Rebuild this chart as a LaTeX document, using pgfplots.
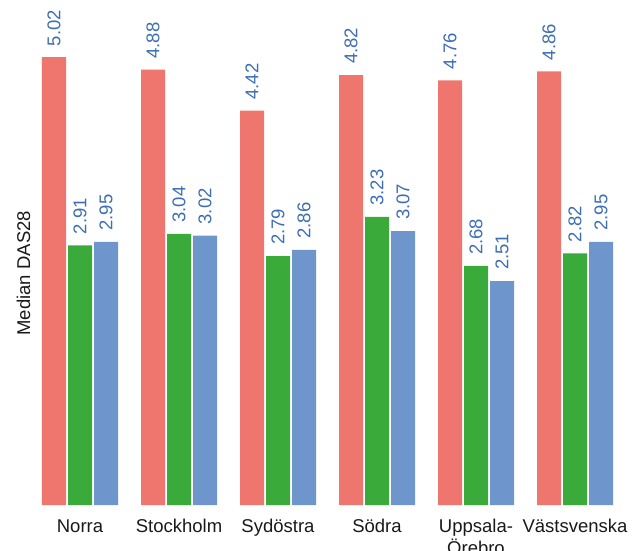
\documentclass[border=0pt]{standalone}
\usepackage{fontspec}
\setmainfont{Liberation Sans}
\usepackage{pgfplots}
\pgfplotsset{compat=1.18}
\definecolor{cred}{RGB}{238,118,111}
\definecolor{cgreen}{RGB}{58,170,58}
\definecolor{cblue}{RGB}{110,150,205}
\definecolor{ctext}{RGB}{61,110,181}
\begin{document}
\begin{tikzpicture}
\begin{axis}[
 scale only axis, width=594pt, height=505pt,
 ymin=0, ymax=5.6614, xmin=-0.5, xmax=5.5,
 ybar=2pt, bar width=24pt,
 xtick={0,1,2,3,4,5},
 xticklabels={\strut Norra,\strut Stockholm,\strut Sydöstra,\strut Södra,{\strut Uppsala-\\Örebro},\strut Västsvenska},
 ytick=\empty,
 axis line style={draw=none}, major tick length=0pt,
 xticklabel style={font=\fontsize{18.5}{21}\selectfont, align=center, anchor=north, yshift=-12.3pt, text=black!90, inner sep=0pt},
 ylabel={Median DAS28},
 ylabel style={font=\fontsize{18.5}{21}\selectfont, at={(axis description cs:-0.0118,0.459)}, anchor=center, text=black!90},
 clip=false,
 /pgf/number format/assume math mode=true,
 nodes near coords={\pgfmathprintnumber[fixed, fixed zerofill, precision=2]{\pgfplotspointmeta}},
 every node near coord/.append style={font=\fontsize{18.5}{21}\selectfont, text=ctext, yshift=11pt, rotate=90, anchor=west, inner sep=0pt},
]
\addplot[fill=cred, draw=none] coordinates {(0,5.02) (1,4.88) (2,4.42) (3,4.82) (4,4.76) (5,4.86)};
\addplot[fill=cgreen, draw=none] coordinates {(0,2.91) (1,3.04) (2,2.79) (3,3.23) (4,2.68) (5,2.82)};
\addplot[fill=cblue, draw=none] coordinates {(0,2.95) (1,3.02) (2,2.86) (3,3.07) (4,2.51) (5,2.95)};
\end{axis}
\pgfresetboundingbox
\useasboundingbox (-30.5pt,-46pt) rectangle (611.5pt,505pt);
\end{tikzpicture}
\end{document}
